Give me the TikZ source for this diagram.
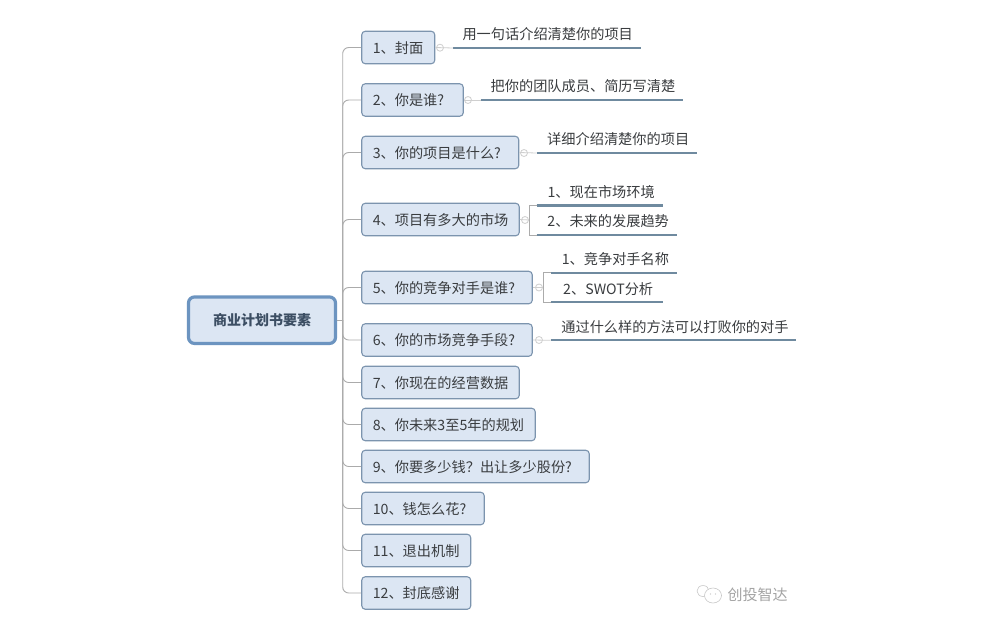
\documentclass[tikz,border=0pt]{standalone}
\usepackage{fontspec}
\setmainfont{Noto Sans CJK SC}
\definecolor{boxfill}{HTML}{DCE6F3}
\definecolor{boxline}{HTML}{7C94AE}
\definecolor{rootline}{HTML}{6C94C0}
\definecolor{txt}{HTML}{3A3D40}
\definecolor{roottxt}{HTML}{3C4E63}
\definecolor{branchc}{HTML}{ABABAB}
\definecolor{leafc}{HTML}{6F8A9F}
\definecolor{markc}{HTML}{CFCFCF}
\definecolor{wm}{HTML}{A4A4A4}
\tikzset{
  bx/.style={draw=boxline,fill=boxfill,line width=1.1pt,rounded corners=3.5pt,inner sep=0pt,anchor=west,
    minimum height=32.5pt,text=txt,font=\fontsize{14.2}{17}\selectfont,text height=14.5pt,text depth=3pt},
  rootbox/.style={draw=rootline,fill=boxfill,line width=3.2pt,rounded corners=6pt,inner sep=0pt,
    minimum width=147pt,minimum height=46.5pt,text=roottxt,font=\fontsize{14}{17}\selectfont\bfseries},
  leaf/.style={inner sep=0pt,anchor=south west,minimum height=22pt,text=txt,align=left,
    font=\fontsize{14.2}{17}\selectfont,text height=11.5pt,text depth=5.5pt},
  leafline/.style={draw=leafc,line width=2.2pt},
  branch/.style={draw=branchc,line width=0.9pt},
  foldmark/.style={draw=markc,line width=0.8pt,circle,inner sep=0pt,minimum size=7pt},
  stub/.style={draw=markc,line width=0.8pt},
  wmk/.style={draw=wm!60,line width=0.6pt},
}
\begin{document}
\begin{tikzpicture}[x=1pt,y=-1pt]
\useasboundingbox[fill=white] (0,0) rectangle (1003,635);
\node[rootbox] (root) at (262,320.2) {商业计划书要素};
\coordinate (hub) at (342.7,320.2);
\draw[branch] (root.east) -- (hub);
\foreach \i/\yc/\w/\t in {
 1/47.5/73/{1、封面},
 2/100/101.5/{2、你是谁?},
 3/152.5/157/{3、你的项目是什么?},
 4/219.5/157.5/{4、项目有多大的市场},
 5/287.5/170.5/{5、你的竞争对手是谁?},
 6/340/170.5/{6、你的市场竞争手段?},
 7/382.5/157.5/{7、你现在的经营数据},
 8/424.5/173.5/{8、你未来3至5年的规划},
 9/466.5/227.5/{9、你要多少钱\char"FF1F 出让多少股份?},
 10/508.5/122.5/{10、钱怎么花?},
 11/550.5/109/{11、退出机制},
 12/593/109/{12、封底感谢}}{
  \node[bx,minimum width=\w pt] (b\i) at (361.2,\yc) {\makebox[\w pt][l]{\hspace{11pt}\t}};
  \draw[branch,rounded corners=6pt] (hub) |- (b\i.west);
}
% leaves
\node[leaf,minimum width=188pt] (l1) at (453,48) {\hspace{1pt}用一句话介绍清楚你的项目};
\node[leaf,minimum width=202.5pt] (l2) at (480.5,100) {\hspace{2pt}把你的团队成员、简历写清楚};
\node[leaf,minimum width=160.5pt] (l3) at (536.5,153) {\hspace{2.5pt}详细介绍清楚你的项目};
\node[leaf,minimum width=126.5pt] (l41) at (536.5,205.5) {\hspace{2.5pt}1、现在市场环境};
\node[leaf,minimum width=140.5pt] (l42) at (536.5,235) {\hspace{2.5pt}2、未来的发展趋势};
\node[leaf,minimum width=126.5pt] (l51) at (550.5,272.7) {\hspace{3pt}1、竞争对手名称};
\node[leaf,minimum width=112pt] (l52) at (550.5,302.3) {\hspace{3pt}2、SWOT分析};
\node[leaf,minimum width=245.5pt] (l6) at (550.5,340.3) {\hspace{3pt}通过什么样的方法可以打败你的对手};
\foreach \n in {l1,l2,l3,l41,l42,l51,l52,l6}{
  \draw[leafline] (\n.south west) -- (\n.south east);
}
% collapse markers
\node[foldmark] (m1) at (440,47.7) {};
\node[foldmark] (m2) at (468,100) {};
\node[foldmark] (m3) at (524,153) {};
\node[foldmark] (m4) at (525,220) {};
\node[foldmark] (m5) at (539,287.5) {};
\node[foldmark] (m6) at (539,340) {};
\draw[stub] (b1.east) -- (l1.south west);
\draw[stub] (b2.east) -- (l2.south west);
\draw[stub] (b3.east) -- (l3.south west);
\draw[stub] (b4.east) -- (529.3,220);
\draw[stub] (b5.east) -- (543.5,287.5);
\draw[stub] (b6.east) -- (l6.south west);
\draw[branch,line width=0.8pt] (l41.south west) -| (529.3,220) |- (l42.south west);
\draw[branch,line width=0.8pt] (l51.south west) -| (543.5,287.5) |- (l52.south west);
% watermark
\node[inner sep=0pt,anchor=west,text=wm,font=\fontsize{15}{18}\selectfont] (wmtext) at (727.5,594.5) {创投智达};
\draw[wmk] (703,591) ellipse [x radius=6pt,y radius=5.5pt];
\draw[wmk,fill=white] (713,595.5) ellipse [x radius=8.5pt,y radius=7.5pt];
\fill[wm!70] (710.5,594) circle (0.7pt) (715.5,594) circle (0.7pt);
\end{tikzpicture}
\end{document}
